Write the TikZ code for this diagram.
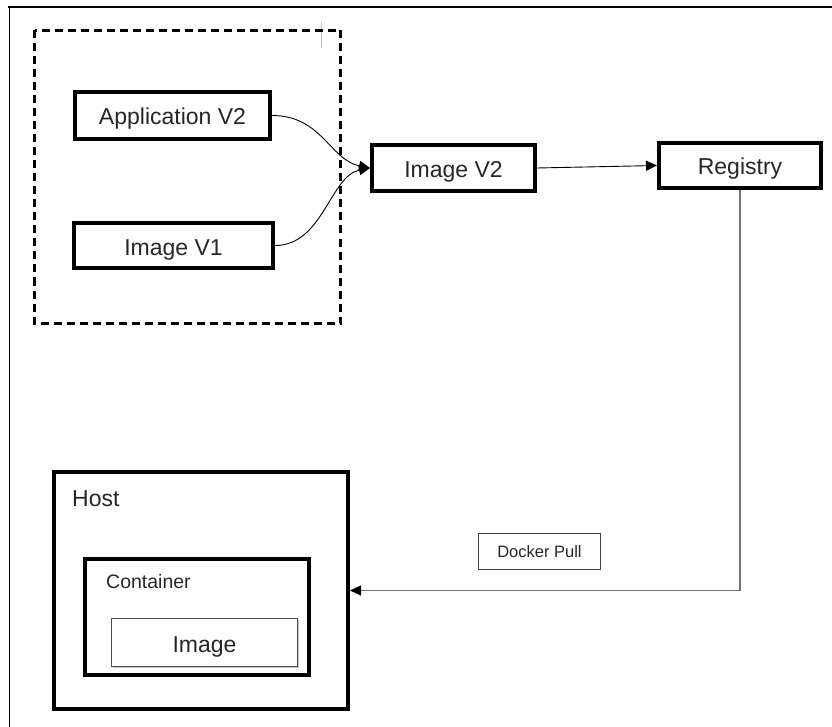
\documentclass[tikz,border=0pt]{standalone}
\usepackage{fontspec}
\setmainfont{Liberation Sans}
\usetikzlibrary{arrows.meta,shadows}
\begin{document}
\begin{tikzpicture}[x=1pt,y=-1pt,
  box/.style={draw=black,line width=4pt,inner sep=0pt,font=\fontsize{23}{26}\selectfont,text=black!85,text height=19pt,text depth=0pt},
  thinbox/.style={draw=black!75,line width=1pt,inner sep=0pt},
  conn/.style={line width=0.9pt,-{Triangle[length=11pt,width=10pt]}},
  lbl/.style={inner sep=0pt,anchor=west,text=black!85}
]
\useasboundingbox (0,0) rectangle (832,727);
% outer frame
\draw[line width=2pt] (8,7) -- (832,7);
\draw[line width=1pt] (9.5,7) -- (9.5,727);
\draw[black!25,line width=0.8pt] (321,22) -- (321,48);
% dashed group
\draw[line width=3pt,dash pattern=on 8pt off 5pt] (34.5,30.5) rectangle (340.5,323.5);
% nodes
\node[box,minimum width=195pt,minimum height=47pt] (app) at (172.5,115.5) {Application V2};
\node[box,minimum width=199pt,minimum height=45pt] (imv1) at (173.5,245.5) {Image V1};
\node[box,minimum width=163pt,minimum height=46pt] (imv2) at (453.5,168) {Image V2};
\node[box,minimum width=162pt,minimum height=45pt] (reg) at (740,165.5) {Registry};
\node[box,minimum width=294pt,minimum height=237pt] (host) at (201,590.5) {};
\node[box,minimum width=224pt,minimum height=116pt] (cont) at (197,617) {};
\node[thinbox,draw=black!70,fill=white,drop shadow={opacity=0.45,shadow xshift=1.5pt,shadow yshift=-1.5pt},minimum width=186pt,minimum height=48pt,font=\fontsize{23}{26}\selectfont,text=black!85,text height=19pt,text depth=0pt] (img) at (204.5,642.5) {Image};
\node[thinbox,minimum width=122pt,minimum height=36pt,font=\fontsize{16.5}{19}\selectfont,text=black!85] (dock) at (539.5,551.5) {Docker Pull};
\node[lbl,font=\fontsize{23}{26}\selectfont] (hostlbl) at (72,499) {Host};
\node[lbl,font=\fontsize{19.5}{22}\selectfont] (contlbl) at (106,582) {Container};
% connectors
\draw[conn] (app.east) .. controls +(50,0) and +(-40,-8) .. (imv2.west);
\draw[conn] (imv1.east) .. controls +(48,0) and +(-40,8) .. (imv2.west);
\draw[conn] (imv2.east) -- (reg.west);
\draw[line width=1.2pt,draw=black!55,-{Triangle[length=11pt,width=10pt,fill=black,color=black]}] (reg.south) |- (host.east);
\end{tikzpicture}
\end{document}
